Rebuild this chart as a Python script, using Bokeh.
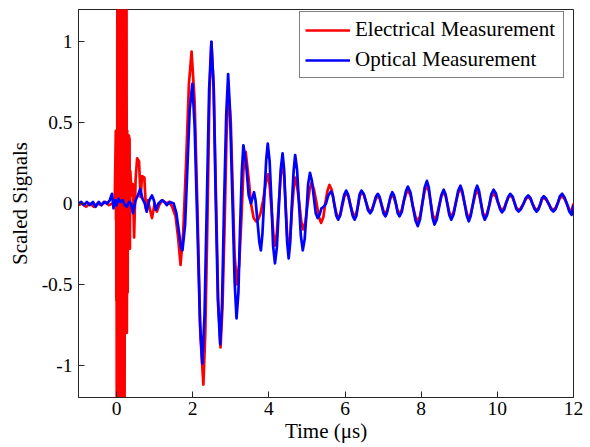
from bokeh.plotting import figure
from bokeh.models import FixedTicker, Range1d, Legend, LegendItem
from bokeh.embed import file_html
from bokeh.resources import INLINE

# ---- data: (time in us, scaled signal) ----
optical = [(-1.0, 0.0), (-0.93, 0.01), (-0.86, -0.01), (-0.78, 0.01), (-0.7, -0.01), (-0.62, 0.01),
           (-0.55, -0.02), (-0.47, 0.01), (-0.4, -0.01), (-0.33, 0.01), (-0.25, 0.0), (-0.18, 0.02),
           (-0.12, 0.06), (-0.08, -0.03), (-0.04, 0.02), (0.0, -0.01), (0.05, 0.03), (0.1, 0.01),
           (0.16, 0.02), (0.22, -0.01), (0.27, -0.02), (0.33, 0.01), (0.38, 0.0), (0.43, -0.06),
           (0.5, 0.02), (0.56, 0.05), (0.62, 0.09), (0.68, 0.03), (0.74, 0.0), (0.79, -0.05),
           (0.86, 0.02), (0.93, 0.05), (0.98, 0.02), (1.03, -0.04), (1.1, 0.0), (1.19, 0.02),
           (1.26, 0.01), (1.32, -0.01), (1.4, 0.01), (1.5, 0.0), (1.57, -0.06), (1.64, -0.18),
           (1.69, -0.27), (1.73, -0.29), (1.8, -0.13), (1.86, 0.22), (1.92, 0.58), (1.99, 0.74),
           (2.05, 0.48), (2.12, -0.12), (2.19, -0.73), (2.25, -0.99), (2.31, -0.69), (2.37, 0.0),
           (2.43, 0.70), (2.49, 1.0), (2.55, 0.72), (2.6, 0.07), (2.66, -0.59), (2.72, -0.87),
           (2.77, -0.62), (2.82, -0.04), (2.88, 0.55), (2.93, 0.80), (2.98, 0.57), (3.04, 0.05),
           (3.1, -0.48), (3.15, -0.71), (3.2, -0.55), (3.24, -0.18), (3.29, 0.2), (3.33, 0.36),
           (3.4, 0.25), (3.47, 0.05), (3.53, 0.0), (3.61, 0.07), (3.65, 0.02), (3.70, -0.11),
           (3.75, -0.24), (3.79, -0.29), (3.83, -0.19), (3.88, 0.04), (3.93, 0.27), (3.97, 0.37),
           (4.02, 0.26), (4.07, 0.0), (4.11, -0.26), (4.16, -0.37), (4.21, -0.27), (4.26, -0.03),
           (4.31, 0.21), (4.36, 0.31), (4.40, 0.21), (4.44, -0.02), (4.48, -0.24), (4.52, -0.34),
           (4.56, -0.24), (4.6, -0.02), (4.65, 0.2), (4.69, 0.30), (4.74, 0.21), (4.79, 0.0),
           (4.84, -0.2), (4.89, -0.29), (4.94, -0.22), (4.99, -0.05), (5.03, 0.12), (5.08, 0.19),
           (5.13, 0.14), (5.18, 0.04), (5.23, -0.06), (5.28, -0.09), (5.33, -0.07), (5.38, -0.03),
           (5.44, -0.02), (5.5, 0.0), (5.56, 0.05), (5.63, 0.075), (5.68, 0.05), (5.72, -0.01),
           (5.77, -0.075), (5.82, -0.10), (5.87, -0.075), (5.92, -0.01), (5.98, 0.055), (6.03, 0.08),
           (6.08, 0.055), (6.14, -0.01), (6.2, -0.075), (6.25, -0.10), (6.3, -0.075), (6.34, -0.01),
           (6.38, 0.055), (6.43, 0.08), (6.49, 0.06), (6.55, 0.01), (6.6, -0.04), (6.66, -0.06),
           (6.71, -0.042), (6.76, 0.0), (6.81, 0.042), (6.86, 0.06), (6.91, 0.04), (6.96, -0.01),
           (7.01, -0.06), (7.06, -0.08), (7.1, -0.058), (7.15, -0.005), (7.2, 0.048), (7.24, 0.07),
           (7.29, 0.048), (7.34, -0.005), (7.38, -0.058), (7.43, -0.08), (7.49, -0.052), (7.54, 0.012),
           (7.6, 0.077), (7.65, 0.105), (7.72, 0.068), (7.78, -0.018), (7.85, -0.103), (7.91, -0.14),
           (7.97, -0.098), (8.03, 0.0), (8.09, 0.098), (8.15, 0.14), (8.2, 0.1), (8.25, 0.005),
           (8.3, -0.09), (8.35, -0.13), (8.41, -0.098), (8.47, -0.022), (8.53, 0.053), (8.59, 0.085),
           (8.64, 0.057), (8.69, -0.008), (8.74, -0.072), (8.79, -0.10), (8.85, -0.068), (8.91, 0.005),
           (8.97, 0.078), (9.03, 0.11), (9.08, 0.077), (9.14, 0.0), (9.2, -0.077), (9.25, -0.11),
           (9.3, -0.077), (9.36, 0.0), (9.42, 0.077), (9.47, 0.11), (9.52, 0.078), (9.57, 0.005),
           (9.62, -0.068), (9.67, -0.10), (9.73, -0.072), (9.79, -0.008), (9.84, 0.057), (9.9, 0.085),
           (9.96, 0.064), (10.01, 0.015), (10.07, -0.034), (10.12, -0.055), (10.18, -0.038), (10.23, 0.003),
           (10.29, 0.043), (10.34, 0.06), (10.4, 0.044), (10.45, 0.005), (10.5, -0.034), (10.56, -0.05),
           (10.62, -0.035), (10.69, 0.0), (10.75, 0.035), (10.81, 0.05), (10.87, 0.035), (10.92, 0.0),
           (10.98, -0.035), (11.03, -0.05), (11.08, -0.036), (11.13, -0.002), (11.17, 0.031), (11.22, 0.045),
           (11.28, 0.031), (11.35, -0.002), (11.41, -0.036), (11.47, -0.05), (11.53, -0.034), (11.59, 0.005),
           (11.64, 0.044), (11.7, 0.06), (11.76, 0.04), (11.83, -0.005), (11.89, -0.05), (11.95, -0.07),
           (12.0, -0.01)]

electrical = [(-1.0, -0.01), (-0.9, 0.0), (-0.8, -0.02), (-0.7, 0.0), (-0.6, -0.02), (-0.5, 0.0),
              (-0.4, -0.01), (-0.3, 0.01), (-0.2, -0.01), (-0.1, 0.0), (-0.05, -0.02),
              (-0.02, 0.45), (-0.015, -0.1), (-0.01, 0.45), (-0.005, -0.6), (0.0, 0.4), (0.005, -1.5),
              (0.01, 0.45), (0.015, -1.5), (0.02, 1.5), (0.03, -1.5), (0.04, 1.5), (0.05, -1.5),
              (0.06, 1.5), (0.07, -1.5), (0.08, 1.5), (0.09, -1.5), (0.10, 1.5), (0.11, -1.5),
              (0.12, 1.5), (0.13, -1.5), (0.14, 1.5), (0.15, -1.5), (0.16, 1.5), (0.17, -1.5),
              (0.18, 1.5), (0.19, -1.5), (0.20, 1.5), (0.21, -1.5), (0.22, 1.5), (0.23, -0.75),
              (0.24, 1.5), (0.25, -0.75), (0.26, 1.5), (0.27, -0.8), (0.28, 0.45), (0.29, -0.55),
              (0.30, 0.42), (0.31, -0.28), (0.32, 0.42), (0.33, -0.28), (0.34, 0.4), (0.35, -0.28),
              (0.36, 0.2),
              (0.4, 0.05), (0.43, 0.12), (0.46, -0.21), (0.5, 0.15), (0.54, 0.28), (0.59, 0.26),
              (0.63, 0.04), (0.67, 0.17), (0.73, 0.16), (0.77, -0.03), (0.82, 0.02), (0.86, -0.02),
              (0.93, -0.09), (1.0, 0.0), (1.06, -0.05), (1.12, -0.01), (1.2, 0.02), (1.3, 0.0),
              (1.38, 0.01), (1.46, -0.02), (1.55, -0.08), (1.62, -0.22), (1.68, -0.38),
              (1.75, -0.18), (1.83, 0.28), (1.9, 0.74), (1.97, 0.94), (2.05, 0.63), (2.13, -0.09),
              (2.2, -0.81), (2.28, -1.12), (2.33, -0.8), (2.39, -0.06), (2.44, 0.68), (2.49, 1.0),
              (2.55, 0.72), (2.61, 0.055), (2.67, -0.61), (2.73, -0.89), (2.78, -0.65), (2.84, -0.105),
              (2.89, 0.44), (2.94, 0.68), (3.0, 0.5), (3.05, 0.09), (3.1, -0.32), (3.16, -0.5),
              (3.22, -0.38), (3.28, -0.09), (3.33, 0.2), (3.39, 0.32), (3.47, 0.15), (3.53, 0.0),
              (3.6, -0.09), (3.66, -0.11), (3.72, -0.1), (3.78, -0.06), (3.85, 0.02), (3.92, 0.13),
              (3.98, 0.18), (4.02, 0.11), (4.07, -0.04), (4.12, -0.19), (4.16, -0.26), (4.21, -0.18),
              (4.26, 0.0), (4.31, 0.17), (4.36, 0.25), (4.4, 0.17), (4.44, -0.015), (4.48, -0.2),
              (4.52, -0.28), (4.56, -0.21), (4.6, -0.06), (4.65, 0.09), (4.69, 0.16), (4.74, 0.11),
              (4.8, 0.0), (4.85, -0.11), (4.9, -0.16), (4.96, -0.115), (5.01, -0.015), (5.07, 0.085),
              (5.12, 0.13), (5.18, 0.09), (5.25, 0.005), (5.31, -0.08), (5.37, -0.12), (5.43, -0.085),
              (5.48, 0.0), (5.54, 0.08), (5.59, 0.115), (5.65, 0.085), (5.71, 0.01), (5.77, -0.06),
              (5.83, -0.09), (5.88, -0.067), (5.93, -0.013), (5.98, 0.042), (6.03, 0.065), (6.09, 0.043),
              (6.14, -0.008), (6.2, -0.058), (6.25, -0.08), (6.3, -0.058), (6.35, -0.005), (6.39, 0.048),
              (6.44, 0.07), (6.5, 0.052), (6.55, 0.01), (6.61, -0.032), (6.66, -0.05), (6.71, -0.036),
              (6.76, -0.003), (6.81, 0.031), (6.86, 0.045), (6.91, 0.03), (6.96, -0.008), (7.01, -0.045),
              (7.06, -0.06), (7.11, -0.044), (7.15, -0.005), (7.19, 0.034), (7.24, 0.05), (7.29, 0.034),
              (7.34, -0.005), (7.38, -0.044), (7.43, -0.06), (7.49, -0.04), (7.54, 0.01), (7.6, 0.06),
              (7.65, 0.08), (7.72, 0.052), (7.78, -0.015), (7.85, -0.082), (7.91, -0.11), (7.97, -0.077),
              (8.03, 0.0), (8.09, 0.077), (8.15, 0.11), (8.2, 0.078), (8.25, 0.005), (8.3, -0.068),
              (8.35, -0.10), (8.41, -0.075), (8.47, -0.015), (8.53, 0.045), (8.59, 0.07), (8.64, 0.048),
              (8.69, -0.005), (8.74, -0.058), (8.79, -0.08), (8.85, -0.055), (8.91, 0.005), (8.97, 0.065),
              (9.03, 0.09), (9.08, 0.063), (9.14, 0.0), (9.2, -0.063), (9.25, -0.09), (9.3, -0.065),
              (9.36, -0.005), (9.42, 0.055), (9.47, 0.08), (9.52, 0.056), (9.57, 0.0), (9.62, -0.056),
              (9.67, -0.08), (9.73, -0.06), (9.79, -0.01), (9.84, 0.04), (9.9, 0.06), (9.96, 0.045),
              (10.01, 0.01), (10.07, -0.025), (10.12, -0.04), (10.18, -0.027), (10.23, 0.005), (10.29, 0.037),
              (10.34, 0.05), (10.4, 0.037), (10.45, 0.005), (10.5, -0.027), (10.56, -0.04), (10.62, -0.028),
              (10.69, 0.0), (10.75, 0.028), (10.81, 0.04), (10.87, 0.028), (10.92, 0.0), (10.98, -0.028),
              (11.03, -0.04), (11.08, -0.029), (11.13, -0.003), (11.17, 0.024), (11.22, 0.035), (11.28, 0.024),
              (11.35, -0.003), (11.41, -0.029), (11.47, -0.04), (11.53, -0.027), (11.59, 0.003), (11.64, 0.032),
              (11.7, 0.045), (11.76, 0.031), (11.83, -0.003), (11.89, -0.036), (11.95, -0.05), (12.0, 0.0)]

# envelope of the saturated electrical burst near t = 0
burst_t = [-0.02, -0.005, 0.0, 0.02, 0.021, 0.2, 0.21, 0.26, 0.27, 0.36, 0.37]
burst_upper = [0.45, 0.45, 0.45, 0.45, 1.5, 1.5, 1.5, 1.5, 0.42, 0.42, 0.15]
burst_lower = [-0.05, -0.6, -1.5, -1.5, -1.5, -1.5, -0.75, -0.8, -0.28, -0.28, -0.05]

optical_t = [a for a, b in optical]
optical_v = [b for a, b in optical]
electrical_t = [a for a, b in electrical]
electrical_v = [b for a, b in electrical]

x_ticks = [0, 2, 4, 6, 8, 10, 12]
y_ticks = [-1, -0.5, 0, 0.5, 1]
y_tick_labels = {-1: "-1", -0.5: "-0.5", 0: "0", 0.5: "0.5", 1: "1"}
x_tick_labels = {t: str(t) for t in x_ticks}

FONT = "Liberation Serif"
AX = "#262626"
RED = "#ff0000"
BLUE = "#0000ff"

p = figure(width=590, height=447, output_backend="svg", toolbar_location=None,
           x_range=Range1d(-1, 12), y_range=Range1d(-1.2, 1.2),
           min_border_left=78, min_border_right=17, min_border_top=9, min_border_bottom=50)
p.background_fill_color = "white"
p.border_fill_color = "white"
p.grid.visible = False
p.outline_line_color = AX
p.outline_line_width = 1
p.outline_line_alpha = 1

r_el = p.line(electrical_t, electrical_v, line_color=RED, line_width=2.7, line_join="round")
p.varea(x=burst_t, y1=burst_lower, y2=burst_upper, fill_color=RED, fill_alpha=1.0)
r_op = p.line(optical_t, optical_v, line_color=BLUE, line_width=2.7, line_join="round")

for ax in (p.xaxis[0], p.yaxis[0]):
    ax.major_tick_in = 6
    ax.major_tick_out = 0
    ax.minor_tick_in = 0
    ax.minor_tick_out = 0
    ax.axis_line_color = AX
    ax.major_tick_line_color = AX
    ax.major_label_text_font = FONT
    ax.major_label_text_font_size = "19.5px"
    ax.major_label_text_color = "black"
    ax.axis_label_text_font = FONT
    ax.axis_label_text_font_size = "21px"
    ax.axis_label_text_font_style = "normal"
    ax.axis_label_text_color = "black"

p.xaxis[0].ticker = FixedTicker(ticks=x_ticks)
p.xaxis[0].major_label_overrides = x_tick_labels
p.xaxis[0].axis_label = "Time (\u03bcs)"
p.xaxis[0].major_label_standoff = 4
p.xaxis[0].axis_label_standoff = 1

p.yaxis[0].ticker = FixedTicker(ticks=y_ticks)
p.yaxis[0].major_label_overrides = y_tick_labels
p.yaxis[0].axis_label = "Scaled Signals"
p.yaxis[0].major_label_standoff = 6
p.yaxis[0].axis_label_standoff = 7

legend = Legend(items=[LegendItem(label="Electrical Measurement", renderers=[r_el]),
                       LegendItem(label="Optical Measurement", renderers=[r_op])],
                location=(221, 319))
legend.label_text_font = FONT
legend.label_text_font_size = "21px"
legend.label_text_color = "black"
legend.glyph_width = 45
legend.glyph_height = 20
legend.label_width = 203
legend.label_standoff = 5
legend.padding = 5
legend.spacing = 5
legend.margin = 0
legend.border_line_color = "black"
legend.border_line_width = 1
legend.background_fill_color = "white"
legend.background_fill_alpha = 1
p.add_layout(legend)

open("out.html", "w").write(file_html(p, INLINE))
